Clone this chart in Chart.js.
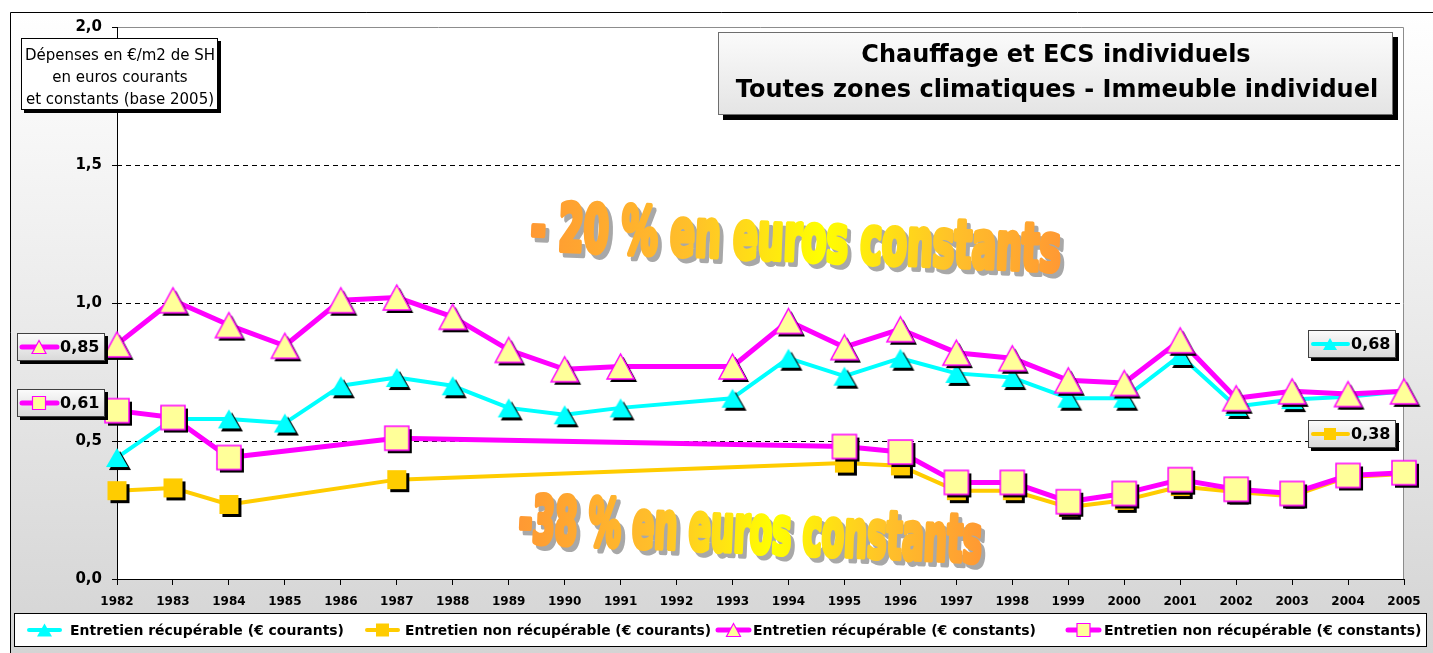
<!DOCTYPE html>
<html><head><meta charset="utf-8">
<script src="https://cdn.jsdelivr.net/npm/chart.js@4/dist/chart.umd.min.js"></script>
<style>html,body{margin:0;padding:0;background:#fff;overflow:hidden}#wrap{position:relative;width:1433px;height:653px}</style>
</head><body><div id="wrap"><canvas id="c" width="1433" height="653"></canvas></div>
<script>
// ---- data ----
const years = ['1982','1983','1984','1985','1986','1987','1988','1989','1990','1991','1992','1993','1994','1995','1996','1997','1998','1999','2000','2001','2002','2003','2004','2005'];
const recupCourants    = [0.44,0.58,0.58,0.565,0.70,0.73,0.70,0.62,0.595,0.62,null,0.655,0.80,0.735,0.80,0.745,0.73,0.655,0.655,0.81,0.625,0.65,0.66,0.68];
const nonRecupCourants = [0.32,0.33,0.27,null,null,0.36,null,null,null,null,null,null,null,0.42,0.41,0.32,0.32,0.26,0.285,0.335,0.315,0.30,0.37,0.38];
const recupConstants   = [0.85,1.01,0.92,0.845,1.01,1.02,0.95,0.83,0.76,0.77,null,0.77,0.935,0.84,0.905,0.82,0.80,0.72,0.71,0.865,0.655,0.68,0.67,0.68];
const nonRecupConstants= [0.61,0.585,0.44,null,null,0.51,null,null,null,null,null,null,null,0.48,0.46,0.35,0.35,0.28,0.31,0.36,0.325,0.31,0.375,0.385];
const yTicks = [0,0.5,1,1.5,2];
const gridValues = [0.5,1,1.5];
const seriesNames = ['Entretien récupérable (€ courants)','Entretien non récupérable (€ courants)','Entretien récupérable (€ constants)','Entretien non récupérable (€ constants)'];
const titleLines = ['Chauffage et ECS individuels','Toutes zones climatiques - Immeuble individuel'];
const yNoteLines = ['Dépenses en €/m2 de SH','en euros courants','et constants (base 2005)'];
const noteTop = '- 20 % en euros constants';
const noteBottom = '-38 % en euros constants';

const fmt = v => v.toFixed(2).replace('.', ',');

// ---- markers ----
function drawShape(g, shape, cx, cy, w, h, fill, stroke, lw){
  g.beginPath();
  if(shape==='tri'){ g.moveTo(cx, cy-h/2); g.lineTo(cx+w/2, cy+h/2); g.lineTo(cx-w/2, cy+h/2); g.closePath(); }
  else { g.rect(cx-w/2, cy-h/2, w, h); }
  g.fillStyle = fill; g.fill();
  if(stroke){ g.lineWidth = lw; g.strokeStyle = stroke; g.lineJoin='miter'; g.stroke(); }
}
function marker(shape, w, h, fill, stroke, lw){
  const sh = 3, pad = 3;
  const cw = Math.ceil(w + 2*(sh+pad)), ch = Math.ceil(h + 2*(sh+pad));
  const c = document.createElement('canvas'); c.width = cw; c.height = ch;
  const g = c.getContext('2d');
  drawShape(g, shape, cw/2+sh, ch/2+sh, w, h, '#000', null, 0);
  drawShape(g, shape, cw/2, ch/2, w, h, fill, stroke, lw);
  return c;
}
const CYAN='#00ffff', ORANGE='#ffcc00', MAG='#ff00ff', PALE='#ffff99';
const mkCyan = marker('tri', 22, 19, CYAN, null, 0);
const mkOrange = marker('sq', 19, 19, ORANGE, null, 0);
const mkMagTri = marker('tri', 27, 25, PALE, MAG, 1.5);
const mkMagSq = marker('sq', 24, 24, PALE, MAG, 1.5);

// ---- plugins ----
const bgPlugin = {
  id:'bg',
  beforeDraw(chart){
    const ctx = chart.ctx, a = chart.chartArea;
    ctx.save();
    const gr = ctx.createLinearGradient(0, 12, 0, 653);
    gr.addColorStop(0, '#ffffff'); gr.addColorStop(1, '#d4d4d4');
    ctx.fillStyle = '#ffffff'; ctx.fillRect(0,0,1433,653);
    ctx.fillStyle = gr; ctx.fillRect(10,12,1423,641);
    ctx.strokeStyle = '#000'; ctx.lineWidth = 1;
    ctx.beginPath(); ctx.moveTo(10.5, 653); ctx.lineTo(10.5, 12.5); ctx.lineTo(1433, 12.5); ctx.stroke();
    ctx.fillStyle = '#ffffff'; ctx.fillRect(a.left, a.top, a.right-a.left, a.bottom-a.top);
    ctx.strokeStyle = '#8c8c8c';
    ctx.beginPath(); ctx.moveTo(a.left, a.top+0.5); ctx.lineTo(a.right-0.5, a.top+0.5); ctx.lineTo(a.right-0.5, a.bottom); ctx.stroke();
    ctx.restore();
  },
  beforeDatasetsDraw(chart){
    const ctx = chart.ctx, a = chart.chartArea, y = chart.scales.y;
    ctx.save();
    ctx.strokeStyle = '#000'; ctx.lineWidth = 1; ctx.setLineDash([5,4]);
    gridValues.forEach(v => {
      const py = Math.round(y.getPixelForValue(v)) + 0.5;
      ctx.beginPath(); ctx.moveTo(a.left, py); ctx.lineTo(a.right, py); ctx.stroke();
    });
    ctx.restore();
  }
};

function wordArt(ctx, text, x0, y0, x1, y1, capH){
  const ang = Math.atan2(y1-y0, x1-x0), len = Math.hypot(x1-x0, y1-y0);
  const F = capH/0.73;
  ctx.save();
  ctx.font = 'bold ' + F + 'px "DejaVu Sans Condensed", "DejaVu Sans", sans-serif';
  const w = ctx.measureText(text).width;
  const sx = len / w;
  ctx.translate(x0, y0); ctx.rotate(ang); ctx.scale(sx, 1.08);
  ctx.textBaseline = 'alphabetic'; ctx.textAlign = 'left';
  ctx.lineJoin = 'round'; ctx.lineWidth = 5;
  ctx.fillStyle = '#a8a8a8'; ctx.strokeStyle = '#a8a8a8';
  ctx.strokeText(text, 4/sx, 4); ctx.fillText(text, 4/sx, 4);
  const gr = ctx.createLinearGradient(0, 0, w, 0);
  gr.addColorStop(0, '#ff9933'); gr.addColorStop(0.3, '#ffc02a'); gr.addColorStop(0.55, '#ffff00'); gr.addColorStop(0.8, '#ffc02a'); gr.addColorStop(1, '#ff9933');
  ctx.fillStyle = gr; ctx.strokeStyle = gr;
  ctx.strokeText(text, 0, 0);
  ctx.fillText(text, 0, 0);
  ctx.restore();
}

const overlayPlugin = {
  id:'overlay',
  afterDraw(chart){
    const ctx = chart.ctx, y = chart.scales.y;
    ctx.save();
    // word art notes
    wordArt(ctx, noteTop, 530, 249, 1060, 271, 44);
    wordArt(ctx, noteBottom, 518, 542, 981, 562, 44);

    // y note box
    ctx.fillStyle = '#000'; ctx.fillRect(24, 41, 197, 72);
    ctx.fillStyle = '#fff'; ctx.fillRect(21, 38, 197, 72);
    ctx.strokeStyle = '#000'; ctx.lineWidth = 1; ctx.strokeRect(21.5, 38.5, 196, 71);
    ctx.fillStyle = '#000'; ctx.font = '15px "DejaVu Sans", sans-serif'; ctx.textAlign = 'center'; ctx.textBaseline = 'middle';
    yNoteLines.forEach((t,i) => ctx.fillText(t, 120, 56 + i*22, 192));

    // title box
    const tg = ctx.createLinearGradient(0, 32, 0, 115);
    tg.addColorStop(0, '#fbfbfb'); tg.addColorStop(1, '#e4e4e4');
    ctx.fillStyle = '#000'; ctx.fillRect(723, 37, 675, 83);
    ctx.fillStyle = tg; ctx.fillRect(718, 32, 675, 83);
    ctx.strokeStyle = '#6e6e6e'; ctx.strokeRect(718.5, 32.5, 674, 82);
    ctx.fillStyle = '#000'; ctx.font = 'bold 24px "DejaVu Sans", sans-serif'; ctx.textAlign = 'center'; ctx.textBaseline = 'middle';
    ctx.fillText(titleLines[0], 1056, 56, 396);
    ctx.fillText(titleLines[1], 1057, 91, 662);

    // value label boxes
    const labels = [
      {x:17, val:recupConstants[0], dy:3, shape:'tri', line:MAG, lw:5, fill:PALE, stroke:MAG, mw:14, mh:13},
      {x:17, val:nonRecupConstants[0], dy:-7.5, shape:'sq', line:MAG, lw:5, fill:PALE, stroke:MAG, mw:13, mh:13},
      {x:1308, val:recupCourants[recupCourants.length-1], dy:-47, shape:'tri', line:CYAN, lw:4, fill:CYAN, stroke:null, mw:14, mh:12},
      {x:1308, val:nonRecupCourants[nonRecupCourants.length-1], dy:-40.5, shape:'sq', line:ORANGE, lw:4, fill:ORANGE, stroke:null, mw:12, mh:12}
    ];
    labels.forEach(L => {
      const cy = y.getPixelForValue(L.val) + L.dy;
      const bx = L.x, by = Math.round(cy - 14), bw = 88, bh = 28;
      const g = ctx.createLinearGradient(0, by, 0, by+bh);
      g.addColorStop(0, '#fcfcfc'); g.addColorStop(1, '#d8d8d8');
      ctx.fillStyle = '#000'; ctx.fillRect(bx+3, by+3, bw, bh);
      ctx.fillStyle = g; ctx.fillRect(bx, by, bw, bh);
      ctx.strokeStyle = '#404040'; ctx.lineWidth = 1; ctx.strokeRect(bx+0.5, by+0.5, bw-1, bh-1);
      const my = by + bh/2;
      ctx.strokeStyle = L.line; ctx.lineWidth = L.lw; ctx.lineCap = 'round';
      ctx.beginPath(); ctx.moveTo(bx+5, my); ctx.lineTo(bx+40, my); ctx.stroke();
      drawShape(ctx, L.shape, bx+22, my, L.mw, L.mh, L.fill, L.stroke, 1.2);
      ctx.fillStyle = '#000'; ctx.font = 'bold 16px "DejaVu Sans", sans-serif'; ctx.textAlign = 'left'; ctx.textBaseline = 'middle';
      ctx.fillText(fmt(L.val), bx+43, my+1, 40);
    });

    // legend
    ctx.fillStyle = '#ffffff'; ctx.fillRect(14, 613, 1413, 34);
    ctx.strokeStyle = '#000'; ctx.lineWidth = 1; ctx.strokeRect(14.5, 613.5, 1412, 33);
    const items = [
      {ix:29, tx:70, tw:274, shape:'tri', line:CYAN, lw:4, fill:CYAN, stroke:null, mw:15, mh:13},
      {ix:367, tx:405, tw:306, shape:'sq', line:ORANGE, lw:4, fill:ORANGE, stroke:null, mw:13, mh:13},
      {ix:718, tx:753, tw:297, shape:'tri', line:MAG, lw:5, fill:PALE, stroke:MAG, mw:14, mh:13},
      {ix:1068, tx:1104, tw:318, shape:'sq', line:MAG, lw:5, fill:PALE, stroke:MAG, mw:13, mh:13}
    ];
    items.forEach((it, i) => {
      const my = 630;
      ctx.strokeStyle = it.line; ctx.lineWidth = it.lw; ctx.lineCap = 'round';
      ctx.beginPath(); ctx.moveTo(it.ix, my); ctx.lineTo(it.ix+31, my); ctx.stroke();
      drawShape(ctx, it.shape, it.ix+15.5, my, it.mw, it.mh, it.fill, it.stroke, 1.2);
      ctx.fillStyle = '#000'; ctx.font = 'bold 14px "DejaVu Sans", sans-serif'; ctx.textAlign = 'left'; ctx.textBaseline = 'middle';
      ctx.fillText(seriesNames[i], it.tx, my+1, it.tw);
    });
    ctx.restore();
  }
};

new Chart(document.getElementById('c'), {
  type: 'line',
  data: {
    labels: years,
    datasets: [
      {label: seriesNames[0], data: recupCourants, borderColor: CYAN, borderWidth: 4, pointStyle: mkCyan, pointRadius: 10, order: 3},
      {label: seriesNames[1], data: nonRecupCourants, borderColor: ORANGE, borderWidth: 4, pointStyle: mkOrange, pointRadius: 10, order: 2},
      {label: seriesNames[2], data: recupConstants, borderColor: MAG, borderWidth: 5, pointStyle: mkMagTri, pointRadius: 12, order: 1},
      {label: seriesNames[3], data: nonRecupConstants, borderColor: MAG, borderWidth: 5, pointStyle: mkMagSq, pointRadius: 12, order: 0}
    ]
  },
  options: {
    responsive: false, animation: false, devicePixelRatio: 1,
    spanGaps: true,
    datasets: { line: { clip: false, tension: 0, fill: false, borderJoinStyle: 'round' } },
    layout: { padding: { left: 0, top: 27, right: 29, bottom: 0 } },
    plugins: { legend: { display: false }, tooltip: { enabled: false } },
    scales: {
      x: {
        type: 'category', offset: false,
        grid: { drawOnChartArea: false, drawTicks: true, tickLength: 6, color: '#000' },
        border: { color: '#000', width: 1 },
        ticks: { color: '#000', font: { family: '"DejaVu Sans", sans-serif', weight: 'bold', size: 12 }, padding: 10, maxRotation: 0, autoSkip: false },
        afterFit(s){ s.height = 74; }
      },
      y: {
        min: 0, max: 2,
        afterBuildTicks(s){ s.ticks = yTicks.map(v => ({value: v})); },
        ticks: { color: '#000', font: { family: '"DejaVu Sans", sans-serif', weight: 'bold', size: 15 }, padding: 10, callback: v => Number(v).toFixed(1).replace('.', ',') },
        grid: { drawOnChartArea: false, drawTicks: true, tickLength: 5, color: '#000' },
        border: { color: '#000', width: 1 },
        afterFit(s){ s.width = 117; }
      }
    }
  },
  plugins: [bgPlugin, overlayPlugin]
});
</script></body></html>
